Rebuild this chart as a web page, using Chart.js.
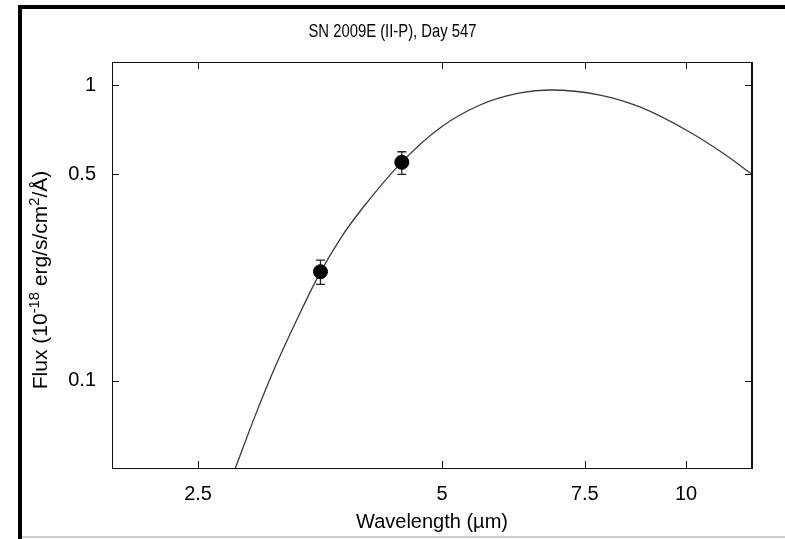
<!DOCTYPE html>
<html>
<head>
<meta charset="utf-8">
<title>SN 2009E (II-P), Day 547</title>
<script src="https://cdn.jsdelivr.net/npm/chart.js@4.4.0/dist/chart.umd.min.js"></script>
<style>
  html, body { margin: 0; padding: 0; background: #fff; }
  #wrap { width: 785px; height: 539px; }
</style>
</head>
<body>
<div id="wrap"><canvas id="sed-chart" width="785" height="539"></canvas></div>
<script>
// Observed photometry
const obsWavelength = [3.54, 4.46];
const obsFlux = [0.234, 0.548];
const obsFluxLow = [0.212, 0.499];
const obsFluxHigh = [0.256, 0.595];

// Fitted curve, sampled by eye along the drawn line
const fitWavelength = [2.78, 2.94, 3.11, 3.31, 3.53, 3.75, 3.99, 4.46, 4.97, 5.57, 6.24, 6.79, 7.83, 8.77, 10.1, 11.1, 12.05];
const fitFlux = [0.0508, 0.0762, 0.111, 0.161, 0.230, 0.304, 0.384, 0.549, 0.716, 0.856, 0.940, 0.962, 0.925, 0.843, 0.694, 0.589, 0.500];

const xTicks = [2.5, 5, 7.5, 10];
const yTicks = [0.1, 0.5, 1];

const FONT = '"Liberation Sans", Arial, Helvetica, sans-serif';

// frame, title, y title with superscripts, box, inner ticks, error bars
const sedPlugin = {
    id: 'sedExtras',
    beforeDraw(chart) {
        const ctx = chart.ctx;
        ctx.save();
        ctx.fillStyle = '#fff';
        ctx.fillRect(0, 0, chart.width, chart.height);
        // the screenshot frame
        ctx.fillStyle = '#000';
        ctx.fillRect(18, 5, 4, chart.height - 5);
        ctx.fillRect(18, 5, chart.width - 18, 4);
        ctx.fillStyle = '#cfcfcf';
        ctx.fillRect(22, 536, chart.width - 22, 2);
        ctx.restore();
    },
    beforeDatasetsDraw(chart) {
        const ctx = chart.ctx;
        const xs = chart.scales.x, ys = chart.scales.y;
        ctx.save();
        ctx.strokeStyle = '#222';
        ctx.lineWidth = 1.3;
        obsWavelength.forEach((w, i) => {
            const px = xs.getPixelForValue(w);
            const top = ys.getPixelForValue(obsFluxHigh[i]);
            const bot = ys.getPixelForValue(obsFluxLow[i]);
            ctx.beginPath();
            ctx.moveTo(px, top); ctx.lineTo(px, bot);
            ctx.moveTo(px - 4.5, top); ctx.lineTo(px + 4.5, top);
            ctx.moveTo(px - 4.5, bot); ctx.lineTo(px + 4.5, bot);
            ctx.stroke();
        });
        ctx.restore();
    },
    afterDraw(chart) {
        const ctx = chart.ctx;
        const a = chart.chartArea;
        const xs = chart.scales.x, ys = chart.scales.y;
        ctx.save();

        // plot box
        ctx.strokeStyle = '#111';
        ctx.lineWidth = 1;
        ctx.strokeRect(Math.round(a.left) + 0.5, Math.round(a.top) + 0.5,
            Math.round(a.right - a.left), Math.round(a.bottom - a.top));
        ctx.lineWidth = 2;
        ctx.beginPath();
        ctx.moveTo(Math.round(a.right), a.top); ctx.lineTo(Math.round(a.right), a.bottom + 1);
        ctx.stroke();

        // inner tick marks on all four sides
        ctx.lineWidth = 1;
        ctx.beginPath();
        xTicks.forEach(v => {
            const px = Math.round(xs.getPixelForValue(v)) + 0.5;
            ctx.moveTo(px, a.bottom); ctx.lineTo(px, a.bottom - 7);
            ctx.moveTo(px, a.top); ctx.lineTo(px, a.top + 7);
        });
        yTicks.forEach(v => {
            const py = Math.round(ys.getPixelForValue(v)) + 0.5;
            ctx.moveTo(a.left, py); ctx.lineTo(a.left + 7, py);
            ctx.moveTo(a.right, py); ctx.lineTo(a.right - 7, py);
        });
        ctx.stroke();

        // main title, centred on the whole image, a bit condensed like the original
        ctx.save();
        ctx.fillStyle = '#000';
        ctx.font = '19px ' + FONT;
        ctx.textAlign = 'center';
        ctx.textBaseline = 'middle';
        ctx.translate(chart.width / 2, 32);
        ctx.scale(0.78, 1);
        ctx.fillText('SN 2009E (II-P), Day 547', 0, 0);
        ctx.restore();

        // y axis title with superscripts
        const parts = [
            { t: 'Flux (10', sup: false },
            { t: '-18', sup: true },
            { t: ' erg/s/cm', sup: false },
            { t: '2', sup: true },
            { t: '/Å)', sup: false }
        ];
        const big = '20px ' + FONT, small = '14px ' + FONT;
        let total = 0;
        parts.forEach(p => { ctx.font = p.sup ? small : big; p.w = ctx.measureText(p.t).width; total += p.w; });
        ctx.fillStyle = '#000';
        ctx.translate(40, 280);
        ctx.rotate(-Math.PI / 2);
        ctx.scale(1.05, 1);
        ctx.textAlign = 'left';
        ctx.textBaseline = 'alphabetic';
        let cx = -total / 2;
        parts.forEach(p => {
            ctx.font = p.sup ? small : big;
            ctx.fillText(p.t, cx, p.sup ? -1 : 7);
            cx += p.w;
        });
        ctx.restore();
    }
};

const ctx = document.getElementById('sed-chart').getContext('2d');
new Chart(ctx, {
    type: 'scatter',
    data: {
        datasets: [
            {
                label: 'Observed',
                data: obsWavelength.map((w, i) => ({ x: w, y: obsFlux[i] })),
                pointRadius: 7,
                pointHoverRadius: 7,
                backgroundColor: '#000',
                borderColor: '#000',
                order: 1
            },
            {
                label: 'Fit',
                type: 'line',
                data: fitWavelength.map((w, i) => ({ x: w, y: fitFlux[i] })),
                borderColor: '#3a3a3a',
                borderWidth: 1.3,
                pointRadius: 0,
                fill: false,
                cubicInterpolationMode: 'monotone',
                order: 2
            }
        ]
    },
    options: {
        responsive: false,
        animation: false,
        layout: { padding: { top: 62, right: 33, left: 0, bottom: 0 } },
        plugins: {
            legend: { display: false },
            tooltip: { enabled: false },
            title: { display: false }
        },
        scales: {
            x: {
                type: 'logarithmic',
                min: 1.958,
                max: 12.06,
                afterBuildTicks: s => { s.ticks = xTicks.map(v => ({ value: v })); },
                afterFit: s => { s.height = 71; },
                grid: { display: false, drawTicks: false },
                border: { display: false },
                ticks: {
                    callback: v => String(v),
                    color: '#000',
                    font: { family: FONT, size: 20 },
                    padding: 14,
                    maxRotation: 0,
                    autoSkip: false
                },
                title: {
                    display: true,
                    text: 'Wavelength (µm)',
                    color: '#000',
                    font: { family: FONT, size: 20 },
                    padding: { top: 0, bottom: 5 }
                }
            },
            y: {
                type: 'logarithmic',
                min: 0.0508,
                max: 1.196,
                afterBuildTicks: s => { s.ticks = yTicks.map(v => ({ value: v })); },
                afterFit: s => { s.width = 112; },
                grid: { display: false, drawTicks: false },
                border: { display: false },
                ticks: {
                    callback: v => String(v),
                    color: '#000',
                    font: { family: FONT, size: 20 },
                    padding: 16,
                    autoSkip: false
                }
            }
        }
    },
    plugins: [sedPlugin]
});
</script>
</body>
</html>
